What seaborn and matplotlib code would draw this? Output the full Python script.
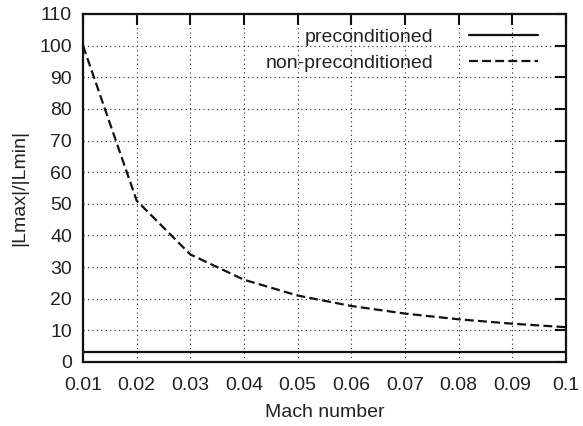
import matplotlib
matplotlib.use("Agg")
import matplotlib.pyplot as plt
import seaborn as sns
import pandas as pd

mach = [0.01, 0.02, 0.03, 0.04, 0.05, 0.06, 0.07, 0.08, 0.09, 0.10]
preconditioned = [3.1, 3.1, 3.1, 3.1, 3.1, 3.1, 3.1, 3.1, 3.1, 3.1]
non_preconditioned = [100, 51, 34, 26, 21, 17.7, 15.3, 13.5, 12.1, 11]
xtick_labels = ["0.01", "0.02", "0.03", "0.04", "0.05", "0.06", "0.07", "0.08", "0.09", "0.1"]
yticks = list(range(0, 111, 10))

sns.set_theme(style="white")
plt.rcParams['font.family'] = ['Liberation Sans', 'DejaVu Sans']

FS = 14
fig = plt.figure(figsize=(5.83, 4.26), dpi=100)
ax = fig.add_axes([83/583, 1-362/426, (566-83)/583, (362-14)/426])

df1 = pd.DataFrame({"M": mach, "v": preconditioned})
df2 = pd.DataFrame({"M": mach, "v": non_preconditioned})
sns.lineplot(data=df1, x="M", y="v", ax=ax, color="#111111", lw=1.6,
             label="preconditioned")
sns.lineplot(data=df2, x="M", y="v", ax=ax, color="#111111", lw=1.6,
             linestyle=(0, (4, 1.9)), label="non-preconditioned")

ax.set_xlim(0.01, 0.1)
ax.set_ylim(0, 110)
ax.set_xticks(mach)
ax.set_xticklabels(xtick_labels)
ax.set_yticks(yticks)
ax.grid(True, linestyle=(0, (1, 3)), color="#222222", lw=0.8)
for s in ax.spines.values():
    s.set_color("#111111")
    s.set_linewidth(1.6)
ax.tick_params(direction="in", length=8, width=1.5, top=True, right=True,
               labelsize=FS, colors="#111111", pad=8)
ax.tick_params(axis="x", pad=11)
ax.tick_params(labelcolor="#222222")
ax.set_xlabel("Mach number", fontsize=FS, color="#222222", labelpad=7)
ax.set_ylabel("|Lmax|/|Lmin|", fontsize=FS, color="#222222", labelpad=8)

leg = ax.legend(loc="upper right", bbox_to_anchor=((538-83)/483, (362-28)/348),
                borderaxespad=0, borderpad=0, frameon=False,
                markerfirst=False, fontsize=FS, handlelength=3.55,
                handletextpad=1.85, labelspacing=0.45)
for t in leg.get_texts():
    t.set_ha("right")
    t.set_color("#222222")

fig.savefig("out.png", dpi=100)
